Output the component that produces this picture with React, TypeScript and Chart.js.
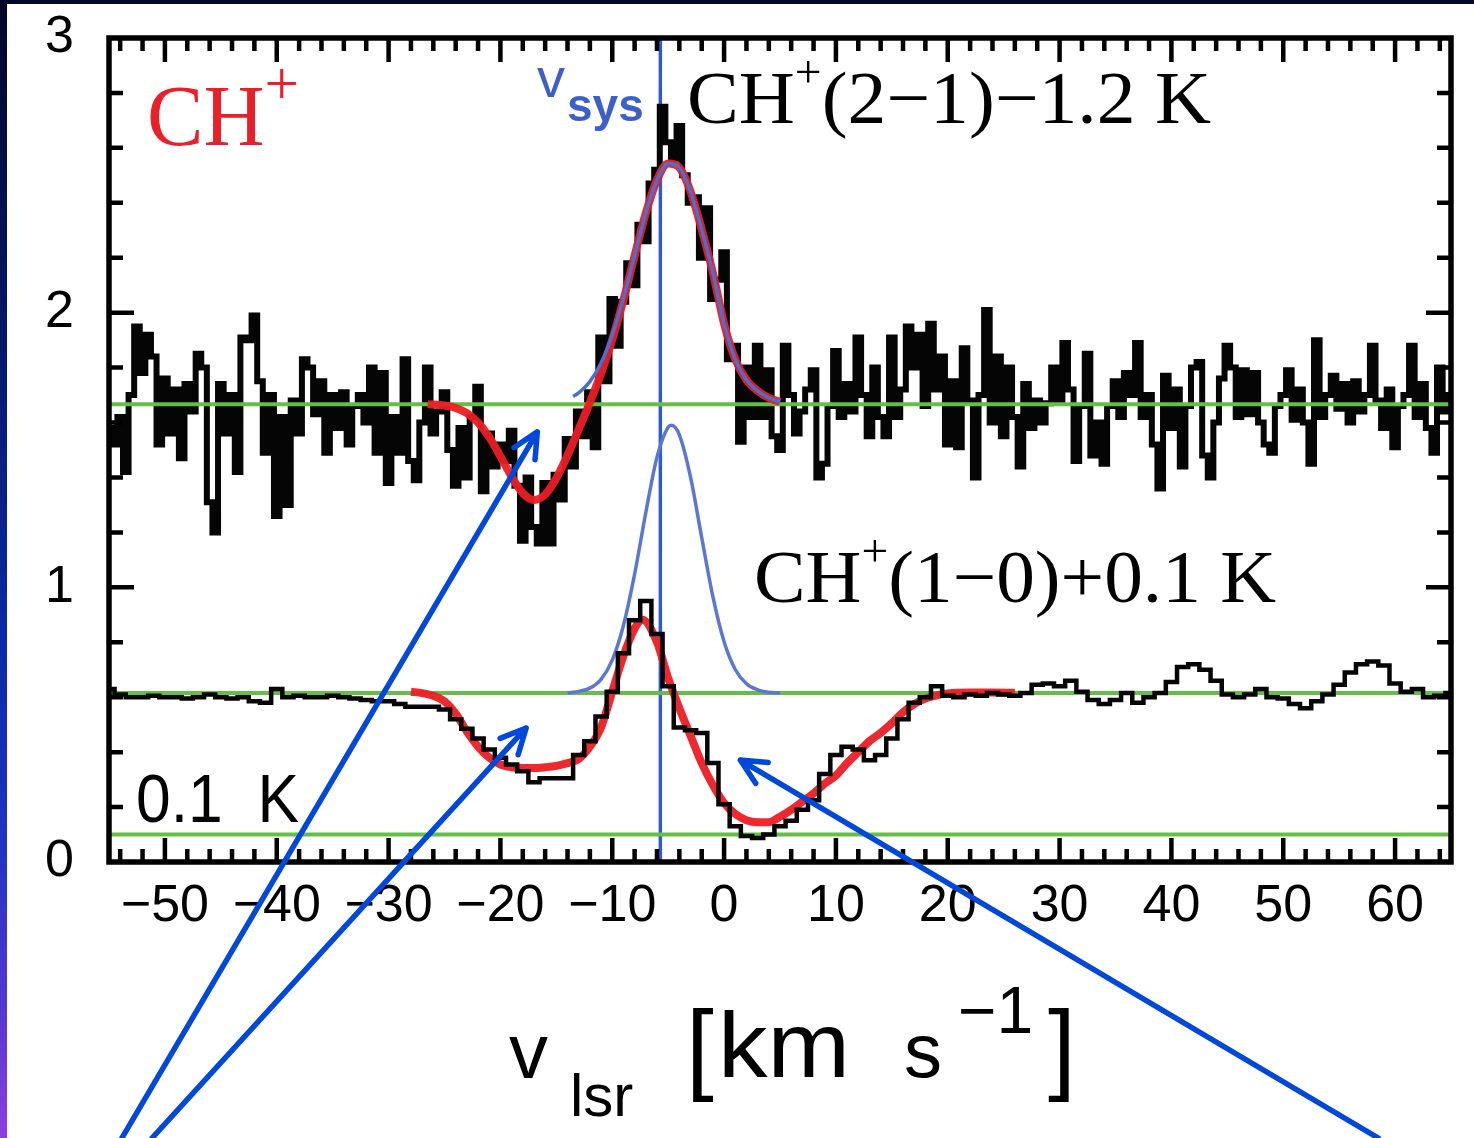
import { useEffect, useRef } from "react";
import { Chart, registerables } from "chart.js";

Chart.register(...registerables);

// ---------------- data ----------------
const X_MIN = -55;
const X_MAX = 65;
const Y_MIN = 0;
const Y_MAX = 3;
const xTickValues = [-50, -40, -30, -20, -10, 0, 10, 20, 30, 40, 50, 60];
const yTickValues = [0, 1, 2, 3];
const X_MINOR_STEP = 2;
const Y_MINOR_STEP = 0.2;

// CH+(2-1) spectrum shifted by -1.2 K ; channels of 0.5 km/s starting at -55 km/s
const ch21Start = -55;
const ch21Step = 0.5;
const ch21Values = [
  1.58, 1.52, 1.62, 1.42, 1.70, 1.95, 1.78, 1.92, 1.84, 1.52,
  1.76, 1.56, 1.72, 1.47, 1.74, 1.64, 1.85, 1.80, 1.31, 1.20,
  1.74, 1.56, 1.70, 1.42, 1.91, 1.90, 1.99, 1.75, 1.49, 1.70,
  1.26, 1.62, 1.30, 1.68, 1.56, 1.83, 1.80, 1.63, 1.75, 1.49,
  1.70, 1.58, 1.71, 1.52, 1.66, 1.70, 1.60, 1.80, 1.49, 1.78,
  1.38, 1.62, 1.49, 1.83, 1.46, 1.39, 1.60, 1.80, 1.56, 1.64,
  1.71, 1.50, 1.37, 1.58, 1.40, 1.62, 1.73, 1.35, 1.56, 1.44,
  1.52, 1.46, 1.57, 1.37, 1.17, 1.40, 1.22, 1.16, 1.38, 1.16,
  1.41, 1.32, 1.54, 1.44, 1.64, 1.55, 1.71, 1.51, 1.91, 1.75,
  2.05, 1.88, 2.04, 2.18, 2.10, 2.32, 2.26, 2.47, 2.52, 2.75,
  2.62, 2.56, 2.68, 2.50, 2.40, 2.42, 2.20, 2.38, 2.05, 2.12,
  2.22, 1.83, 1.88, 1.53, 1.80, 1.62, 1.88, 1.62, 1.79, 1.55,
  1.50, 1.88, 1.70, 1.56, 1.64, 1.72, 1.79, 1.40, 1.45, 1.66,
  1.86, 1.62, 1.74, 1.64, 1.91, 1.70, 1.55, 1.80, 1.62, 1.55,
  1.91, 1.62, 1.72, 1.95, 1.80, 1.92, 1.66, 1.96, 1.72, 1.84,
  1.52, 1.75, 1.51, 1.87, 1.68, 1.40, 1.70, 2.01, 1.60, 1.84,
  1.55, 1.80, 1.62, 1.44, 1.74, 1.58, 1.68, 1.60, 1.67, 1.80,
  1.68, 1.89, 1.72, 1.46, 1.66, 1.85, 1.48, 1.60, 1.45, 1.66,
  1.75, 1.62, 1.78, 1.70, 1.89, 1.62, 1.70, 1.52, 1.36, 1.77,
  1.58, 1.72, 1.44, 1.66, 1.80, 1.82, 1.48, 1.40, 1.60, 1.76,
  1.88, 1.80, 1.62, 1.79, 1.63, 1.78, 1.60, 1.52, 1.49, 1.66,
  1.70, 1.79, 1.61, 1.72, 1.60, 1.45, 1.90, 1.62, 1.70, 1.77,
  1.65, 1.74, 1.60, 1.75, 1.64, 1.70, 1.88, 1.68, 1.58, 1.72,
  1.51, 1.66, 1.70, 1.88, 1.62, 1.74, 1.58, 1.49, 1.80, 1.64,
  1.70,
];

// CH+(1-0) spectrum shifted by +0.1 K ; channels of 1 km/s starting at -55 km/s
const ch10Start = -55;
const ch10Step = 1;
const ch10Values = [
  0.63, 0.61, 0.60, 0.60, 0.605, 0.60, 0.60, 0.595, 0.60, 0.61,
  0.60, 0.595, 0.60, 0.585, 0.58, 0.63, 0.60, 0.605, 0.60, 0.60,
  0.605, 0.60, 0.595, 0.59, 0.585, 0.585, 0.575, 0.565, 0.565, 0.565,
  0.555, 0.52, 0.485, 0.45, 0.41, 0.38, 0.355, 0.33, 0.29, 0.305,
  0.305, 0.305, 0.39, 0.44, 0.53, 0.62, 0.76, 0.88, 0.95, 0.83,
  0.64, 0.49, 0.48, 0.47, 0.36, 0.21, 0.13, 0.095, 0.087, 0.10,
  0.13, 0.15, 0.19, 0.225, 0.32, 0.39, 0.42, 0.41, 0.37, 0.39,
  0.45, 0.52, 0.58, 0.60, 0.64, 0.605, 0.60, 0.61, 0.605, 0.615,
  0.61, 0.605, 0.615, 0.645, 0.65, 0.64, 0.66, 0.62, 0.59, 0.575,
  0.59, 0.615, 0.58, 0.60, 0.615, 0.655, 0.71, 0.72, 0.70, 0.66,
  0.61, 0.60, 0.61, 0.63, 0.60, 0.595, 0.575, 0.56, 0.585, 0.61,
  0.645, 0.69, 0.72, 0.73, 0.715, 0.65, 0.62, 0.63, 0.60, 0.605,
  0.615,
];

const baseline21 = 1.667;
const baseline10 = 0.615;
const baselineRef = 0.1;
const vSys = -5.7;

// total Gaussian fit of CH+(2-1) (red)
const fit21Vel = [-26.5, -25, -24, -23, -22, -21, -20, -19, -18, -17, -16, -15, -14, -13, -12, -11, -10, -9, -8, -7, -6, -5, -4, -3, -2, -1, 0, 1, 2, 3, 4, 5];
const fit21Val = [1.667, 1.662, 1.653, 1.634, 1.600, 1.547, 1.477, 1.403, 1.343, 1.318, 1.338, 1.397, 1.481, 1.575, 1.673, 1.779, 1.902, 2.046, 2.207, 2.362, 2.483, 2.543, 2.528, 2.441, 2.303, 2.145, 1.960, 1.830, 1.755, 1.715, 1.690, 1.675];
// emission component of CH+(2-1) (blue)
const gauss21Vel = [-13.5, -13, -12, -11, -10, -9, -8, -7, -6, -5, -4, -3, -2, -1, 0, 1, 2, 3, 4, 5];
const gauss21Val = [1.695, 1.708, 1.749, 1.817, 1.919, 2.053, 2.209, 2.362, 2.483, 2.543, 2.528, 2.441, 2.303, 2.145, 1.960, 1.830, 1.755, 1.715, 1.690, 1.675];
// total fit of CH+(1-0) (red)
const fit10Vel = [-28, -27, -26, -25, -24, -23, -22, -21, -20, -19, -18, -17, -16, -15, -14, -13, -12, -11, -10, -9, -8, -7.3, -6, -5, -4, -3, -2, -1, 0, 1, 2, 3, 4, 5, 6, 7, 8, 9, 10, 11, 12, 13, 14, 15, 16, 17, 18, 19, 20, 22, 24, 26];
const fit10Val = [0.62, 0.615, 0.605, 0.585, 0.54, 0.475, 0.42, 0.38, 0.355, 0.345, 0.342, 0.342, 0.345, 0.35, 0.36, 0.375, 0.42, 0.49, 0.62, 0.75, 0.85, 0.882, 0.80, 0.67, 0.56, 0.46, 0.36, 0.28, 0.215, 0.175, 0.152, 0.145, 0.145, 0.165, 0.19, 0.22, 0.25, 0.285, 0.315, 0.36, 0.40, 0.44, 0.47, 0.505, 0.545, 0.575, 0.595, 0.607, 0.614, 0.617, 0.617, 0.616];
// emission component of CH+(1-0) (blue)
const gauss10Vel = [-14, -13, -12, -11, -10, -9, -8, -7, -6, -5, -4.7, -4, -3, -2, -1, 0, 1, 2, 3, 4, 5];
const gauss10Val = [0.616, 0.621, 0.633, 0.665, 0.735, 0.861, 1.048, 1.272, 1.474, 1.583, 1.590, 1.555, 1.401, 1.181, 0.966, 0.802, 0.701, 0.649, 0.627, 0.618, 0.615];

// annotation arrows (tail -> head), in data units
const arrowTailVel = [-53.85, -51.15, 58.5];
const arrowTailT = [-1.005, -1.005, -1.005];
const arrowHeadVel = [-16.7, -17.7, 1.45];
const arrowHeadT = [1.566, 0.488, 0.371];

// ---------------- layout ----------------
const PAGE_W = 1474;
const PAGE_H = 1138;
const CANVAS_LEFT = 7;
const CANVAS_TOP = 4;
const CANVAS_W = PAGE_W - CANVAS_LEFT;
const CANVAS_H = PAGE_H - CANVAS_TOP;
const AREA = { left: 109 - CANVAS_LEFT, top: 38 - CANVAS_TOP, right: 1451 - CANVAS_LEFT, bottom: 862 - CANVAS_TOP };

const SANS = '"Liberation Sans", Arial, sans-serif';
const SERIF = '"Liberation Serif", "Times New Roman", serif';

const fmtTick = (v: number) => (v < 0 ? "\u2212" + Math.abs(v) : String(v));
const pts = (xs: number[], ys: number[]) => xs.map((x, i) => ({ x, y: ys[i] }));
const channelPts = (start: number, step: number, vals: number[]) => vals.map((y, i) => ({ x: start + i * step, y }));
const hLine = (y: number) => [{ x: X_MIN, y }, { x: X_MAX, y }];

type Part = { text: string; font: string; dy?: number };

function drawParts(ctx: CanvasRenderingContext2D, parts: Part[], pageX: number, pageY: number, color: string, targetWidth?: number) {
  ctx.save();
  ctx.fillStyle = color;
  ctx.textBaseline = "alphabetic";
  ctx.textAlign = "left";
  const widths = parts.map((p) => {
    ctx.font = p.font;
    return ctx.measureText(p.text).width;
  });
  const total = widths.reduce((a, b) => a + b, 0);
  const sx = targetWidth ? targetWidth / total : 1;
  ctx.translate(pageX - CANVAS_LEFT, pageY - CANVAS_TOP);
  ctx.scale(sx, 1);
  let cx = 0;
  parts.forEach((p, i) => {
    ctx.font = p.font;
    ctx.fillText(p.text, cx, p.dy ?? 0);
    cx += widths[i];
  });
  ctx.restore();
}

const decorPlugin = {
  id: "decor",
  afterDatasetsDraw(chart: any) {
    const { ctx, chartArea: a, scales } = chart;
    const xs = scales.x;
    const ys = scales.y;
    ctx.save();
    ctx.strokeStyle = "#000";
    ctx.lineCap = "butt";
    ctx.lineWidth = 4.5;
    ctx.beginPath();
    const nx = Math.round((X_MAX - X_MIN) / X_MINOR_STEP);
    const x0 = Math.ceil(X_MIN / X_MINOR_STEP) * X_MINOR_STEP;
    for (let i = 0; i <= nx; i++) {
      const v = x0 + i * X_MINOR_STEP;
      if (v <= X_MIN || v >= X_MAX) continue;
      const major = xTickValues.includes(v);
      const len = major ? 24 : 13;
      const px = xs.getPixelForValue(v);
      ctx.moveTo(px, a.bottom);
      ctx.lineTo(px, a.bottom - len);
      ctx.moveTo(px, a.top);
      ctx.lineTo(px, a.top + len);
    }
    const ny = Math.round((Y_MAX - Y_MIN) / Y_MINOR_STEP);
    for (let i = 1; i < ny; i++) {
      const v = Y_MIN + i * Y_MINOR_STEP;
      const major = Math.abs(v - Math.round(v)) < 1e-6;
      const len = major ? 25 : 14;
      const py = ys.getPixelForValue(v);
      ctx.moveTo(a.left, py);
      ctx.lineTo(a.left + len, py);
      ctx.moveTo(a.right, py);
      ctx.lineTo(a.right - len, py);
    }
    ctx.stroke();
    ctx.lineWidth = 5.5;
    ctx.strokeRect(a.left, a.top, a.right - a.left, a.bottom - a.top);
    ctx.restore();
  },
  afterDraw(chart: any) {
    const { ctx, scales } = chart;
    const xs = scales.x;
    const ys = scales.y;

    // in-plot labels
    drawParts(ctx, [
      { text: "CH", font: `86px ${SERIF}` },
      { text: "+", font: `62px ${SERIF}`, dy: -41 },
    ], 147, 145, "#e8202a", 152);

    drawParts(ctx, [{ text: "v", font: `56px ${SANS}` }], 537, 97, "#3d5fc9");
    drawParts(ctx, [{ text: "sys", font: `bold 46px ${SANS}` }], 567, 121, "#3d5fc9");

    drawParts(ctx, [
      { text: "CH", font: `75px ${SERIF}` },
      { text: "+", font: `46px ${SERIF}`, dy: -36 },
      { text: "(2\u22121)\u22121.2 K", font: `75px ${SERIF}` },
    ], 687, 123, "#000", 524);

    drawParts(ctx, [
      { text: "CH", font: `75px ${SERIF}` },
      { text: "+", font: `46px ${SERIF}`, dy: -36 },
      { text: "(1\u22120)+0.1 K", font: `75px ${SERIF}` },
    ], 754, 602, "#000", 522);

    drawParts(ctx, [{ text: "0.1  K", font: `68px ${SANS}` }], 136, 822, "#000", 163);

    // axis title: v_lsr [km s^-1]
    drawParts(ctx, [{ text: "v", font: `78px ${SANS}` }], 509, 1078, "#000");
    drawParts(ctx, [{ text: "lsr", font: `60px ${SANS}` }], 570, 1116, "#000");
    drawParts(ctx, [{ text: "[", font: `100px ${SANS}` }], 686, 1081, "#000");
    drawParts(ctx, [{ text: "km", font: `92px ${SANS}` }], 718, 1077, "#000", 132);
    drawParts(ctx, [{ text: "s", font: `76px ${SANS}` }], 904, 1077, "#000");
    drawParts(ctx, [{ text: "\u22121", font: `66px ${SANS}` }], 958, 1033, "#000");
    drawParts(ctx, [{ text: "]", font: `100px ${SANS}` }], 1048, 1081, "#000");

    // annotation arrows
    ctx.save();
    ctx.strokeStyle = "#0048dc";
    ctx.lineWidth = 5.5;
    ctx.lineCap = "round";
    ctx.lineJoin = "round";
    for (let i = 0; i < arrowHeadVel.length; i++) {
      const tx = xs.getPixelForValue(arrowTailVel[i]);
      const ty = ys.getPixelForValue(arrowTailT[i]);
      const hx = xs.getPixelForValue(arrowHeadVel[i]);
      const hy = ys.getPixelForValue(arrowHeadT[i]);
      const ang = Math.atan2(ty - hy, tx - hx);
      const L = 28;
      const spread = 0.45;
      ctx.beginPath();
      ctx.moveTo(tx, ty);
      ctx.lineTo(hx, hy);
      ctx.moveTo(hx + L * Math.cos(ang - spread), hy + L * Math.sin(ang - spread));
      ctx.lineTo(hx, hy);
      ctx.lineTo(hx + L * Math.cos(ang + spread), hy + L * Math.sin(ang + spread));
      ctx.stroke();
    }
    ctx.restore();
  },
};

export default function App() {
  const ref = useRef<HTMLCanvasElement | null>(null);

  useEffect(() => {
    if (!ref.current) return;
    const common = { pointRadius: 0, pointHoverRadius: 0, fill: false };
    const hiddenTicksGrid = (len: number) => ({
      display: true,
      drawOnChartArea: false,
      drawTicks: true,
      tickLength: len,
      color: "rgba(0,0,0,0)",
      tickColor: "rgba(0,0,0,0)",
    });
    const chart = new Chart(ref.current, {
      type: "line",
      data: {
        datasets: [
          { ...common, label: "v_sys", data: [{ x: vSys, y: Y_MIN }, { x: vSys, y: Y_MAX }], borderColor: "#2f5bd0", borderWidth: 3.5, order: 10 },
          { ...common, label: "CH+(2-1)-1.2 K", data: channelPts(ch21Start, ch21Step, ch21Values), stepped: "middle", borderColor: "#050505", borderWidth: 6, order: 9 },
          { ...common, label: "baseline 2-1", data: hLine(baseline21), borderColor: "#66be48", borderWidth: 4, order: 8 },
          { ...common, label: "baseline 1-0", data: hLine(baseline10), borderColor: "#66be48", borderWidth: 4, order: 8 },
          { ...common, label: "0.1 K", data: hLine(baselineRef), borderColor: "#66be48", borderWidth: 4, order: 8 },
          { ...common, label: "fit 2-1", data: pts(fit21Vel, fit21Val), borderColor: "rgba(236,30,36,0.95)", borderWidth: 8, cubicInterpolationMode: "monotone", order: 7 },
          { ...common, label: "fit 1-0", data: pts(fit10Vel, fit10Val), borderColor: "rgba(236,30,36,0.95)", borderWidth: 8, cubicInterpolationMode: "monotone", order: 7 },
          { ...common, label: "emission 2-1", data: pts(gauss21Vel, gauss21Val), borderColor: "#4a6fd0", borderWidth: 3.5, cubicInterpolationMode: "monotone", order: 6 },
          { ...common, label: "emission 1-0", data: pts(gauss10Vel, gauss10Val), borderColor: "#5b78cf", borderWidth: 3.5, cubicInterpolationMode: "monotone", order: 6 },
          { ...common, label: "CH+(1-0)+0.1 K", data: channelPts(ch10Start, ch10Step, ch10Values), stepped: "middle", borderColor: "#050505", borderWidth: 4.5, order: 5 },
        ],
      },
      options: {
        animation: false,
        responsive: false,
        devicePixelRatio: 1,
        events: [],
        parsing: false as any,
        layout: { padding: { left: 0, top: AREA.top, right: CANVAS_W - AREA.right, bottom: 0 } },
        plugins: { legend: { display: false }, tooltip: { enabled: false }, title: { display: false } },
        scales: {
          x: {
            type: "linear",
            position: "bottom",
            min: X_MIN,
            max: X_MAX,
            afterFit: (s: any) => { s.height = CANVAS_H - AREA.bottom; },
            afterBuildTicks: (s: any) => { s.ticks = xTickValues.map((value) => ({ value })); },
            grid: hiddenTicksGrid(11),
            border: { display: false },
            ticks: {
              autoSkip: false,
              maxRotation: 0,
              minRotation: 0,
              padding: 2,
              color: "#000",
              font: { family: SANS, size: 52 },
              callback: (v: any) => fmtTick(Number(v)),
            },
          },
          y: {
            type: "linear",
            min: Y_MIN,
            max: Y_MAX,
            afterFit: (s: any) => { s.width = AREA.left; },
            afterBuildTicks: (s: any) => { s.ticks = yTickValues.map((value) => ({ value })); },
            grid: hiddenTicksGrid(33),
            border: { display: false },
            ticks: {
              padding: 2,
              color: "#000",
              font: { family: SANS, size: 52 },
              callback: (v: any) => fmtTick(Number(v)),
            },
          },
        },
      } as any,
      plugins: [decorPlugin],
    });
    return () => chart.destroy();
  }, []);

  return (
    <div style={{ position: "fixed", left: 0, top: 0, width: PAGE_W, height: PAGE_H, background: "#020926", overflow: "hidden" }}>
      <div
        style={{
          position: "absolute",
          left: 0,
          top: 0,
          width: CANVAS_LEFT,
          height: PAGE_H,
          background: "linear-gradient(to bottom, #010626 0%, #061766 28%, #0c28a4 55%, #2234c4 75%, #5a38d4 90%, #8e3ee0 100%)",
        }}
      />
      <canvas
        ref={ref}
        width={CANVAS_W}
        height={CANVAS_H}
        style={{ position: "absolute", left: CANVAS_LEFT, top: CANVAS_TOP, width: CANVAS_W, height: CANVAS_H, background: "#fff" }}
      />
    </div>
  );
}
